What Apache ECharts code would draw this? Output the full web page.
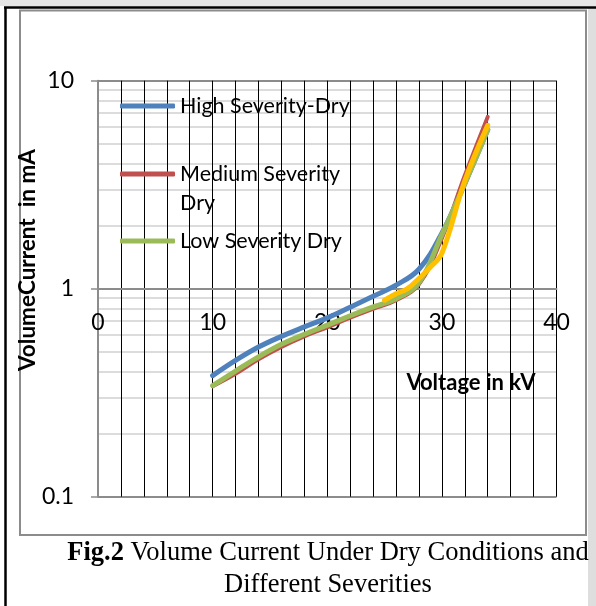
<!DOCTYPE html>
<html style="height: 100%">
<head>
<meta charset="utf-8">
<script src="https://cdn.jsdelivr.net/npm/echarts@6/dist/echarts.min.js"></script>
</head>
<body style="height: 100%; margin: 0; background: #fff">
<div id="container" style="width: 596px; height: 606px"></div>
<script type="text/javascript">

// voltage (kV) and volume current (mA)
var voltage = [10, 12, 14, 16, 18, 20, 22, 24, 26, 28, 30, 32, 34];
var highDry = [0.382, 0.452, 0.524, 0.59, 0.655, 0.724, 0.815, 0.92, 1.04, 1.24, 1.85, 3.2, 5.8];
var mediumDry = [0.34, 0.39, 0.458, 0.525, 0.59, 0.652, 0.725, 0.80, 0.88, 1.05, 1.75, 3.5, 6.7];
var lowDry = [0.342, 0.402, 0.47, 0.54, 0.604, 0.668, 0.741, 0.817, 0.895, 1.07, 1.82, 3.2, 5.8];
// unlabelled fourth curve
var extraVoltage = [25, 26, 27, 28, 29, 30, 32, 34];
var extraDry = [0.88, 0.945, 1.0, 1.12, 1.27, 1.48, 3.3, 6.1];

var seriesNames = ['High Severity-Dry', 'Medium Severity Dry', 'Low Severity Dry', 'Series 4'];
var colors = ['#4F81BD', '#C0504D', '#9BBB59', '#FFC000'];
var xTicks = [0, 10, 20, 30, 40];
var minorLevels = [0.2, 0.3, 0.4, 0.5, 0.6, 0.7, 0.8, 0.9, 2, 3, 4, 5, 6, 7, 8, 9];

function pairs(xs, ys) {
  return xs.map(function (x, i) { return [x, ys[i]]; });
}

var dom = document.getElementById('container');
var myChart = echarts.init(dom, null, {renderer: 'canvas'});

var legendCommon = {
  left: 120,
  orient: 'vertical',
  padding: 0,
  icon: 'roundRect',
  itemWidth: 55,
  itemHeight: 5,
  selectedMode: false,
  textStyle: {fontFamily: 'Lato', fontSize: 21.5, color: '#000', lineHeight: 29}
};

function line(name, data, color, width) {
  return {
    name: name,
    type: 'line',
    data: data,
    smooth: 0.4,
    symbol: 'none',
    color: color,
    lineStyle: {color: color, width: width, cap: 'round', join: 'round'},
    animation: false
  };
}

var option = {
  backgroundColor: '#fff',
  animation: false,
  grid: {left: 98, top: 80.7, right: 39.5, bottom: 109.3},
  legend: [
    Object.assign({}, legendCommon, {data: [seriesNames[0]], top: 91.5}),
    Object.assign({}, legendCommon, {
      data: [seriesNames[1]], top: 130.5,
      // empty first line so that the first text line sits level with the line icon
      formatter: function () { return '\nMedium Severity\nDry'; }
    }),
    Object.assign({}, legendCommon, {data: [seriesNames[2]], top: 226.5})
  ],
  xAxis: {
    type: 'value',
    min: xTicks[0],
    max: xTicks[xTicks.length - 1],
    interval: 10,
    offset: -207.7,
    axisLine: {show: true, onZero: false, lineStyle: {color: '#8c8c8c', width: 2}},
    axisTick: {show: false},
    axisLabel: {fontFamily: 'Lato', fontSize: 23, color: '#000', margin: 22},
    splitLine: {show: true, lineStyle: {color: '#000', width: 1}},
    minorTick: {show: false, splitNumber: 5},
    minorSplitLine: {show: true, lineStyle: {color: '#000', width: 1}}
  },
  yAxis: {
    type: 'log',
    logBase: 10,
    min: 0.1,
    max: 10,
    axisLine: {show: true, lineStyle: {color: '#8c8c8c', width: 2}},
    axisTick: {show: true, length: 7, lineStyle: {color: '#8c8c8c', width: 1.5}},
    axisLabel: {
      fontFamily: 'Lato', fontSize: 23, color: '#000', margin: 24,
      formatter: function (v) { return String(Math.round(v * 1000) / 1000); }
    },
    splitLine: {show: true, lineStyle: {color: '#8c8c8c', width: 2}}
  },
  series: [
    {
      name: 'grid',
      type: 'line',
      data: [],
      z: -1,
      clip: false,
      silent: true,
      animation: false,
      markLine: {
        z: -1,
        silent: true,
        animation: false,
        symbol: ['none', 'none'],
        label: {show: false},
        data: minorLevels.map(function (v) {
          return [{coord: [0, v], lineStyle: {color: '#d0d0d0', width: 1.5, type: 'solid'}}, {coord: [40, v]}];
        }).concat(minorLevels.map(function (v) {
          return [{coord: [-0.6, v], lineStyle: {color: '#8c8c8c', width: 1.5, type: 'solid'}}, {coord: [0, v]}];
        }))
      }
    },
    line(seriesNames[0], pairs(voltage, highDry), colors[0], 5),
    line(seriesNames[1], pairs(voltage, mediumDry), colors[1], 4),
    line(seriesNames[2], pairs(voltage, lowDry), colors[2], 5),
    line(seriesNames[3], pairs(extraVoltage, extraDry), colors[3], 5)
  ],
  graphic: [
    {type: 'rect', shape: {x: 0, y: 0, width: 596, height: 6}, style: {fill: '#e6e6e6'}, z: -10},
    {type: 'rect', shape: {x: 588, y: 8, width: 8, height: 598}, style: {fill: '#dedede'}, z: -10},
    {type: 'line', shape: {x1: 4, y1: 7.5, x2: 596, y2: 7.5}, style: {stroke: '#000', lineWidth: 2.5}},
    {type: 'line', shape: {x1: 5.5, y1: 7, x2: 5.5, y2: 606}, style: {stroke: '#000', lineWidth: 2.5}},
    {type: 'rect', shape: {x: 20, y: 10.5, width: 566, height: 524.5}, style: {fill: 'none', stroke: '#8c8c8c', lineWidth: 2}},
    {
      type: 'text', x: 28, y: 260, rotation: Math.PI / 2,
      style: {text: 'VolumeCurrent  in mA', font: 'bold 22.5px Lato', fill: '#000', align: 'center', verticalAlign: 'middle'}
    },
    {
      type: 'text', x: 471, y: 383,
      style: {text: 'Voltage in kV', font: 'bold 22px Lato', fill: '#000', align: 'center', verticalAlign: 'middle'}
    },
    {
      type: 'text', x: 328, y: 553,
      style: {
        text: '{b|Fig.2} Volume Current Under Dry Conditions and',
        font: '26.5px "Liberation Serif"', fill: '#000', align: 'center', verticalAlign: 'middle',
        rich: {b: {fontWeight: 'bold', fontFamily: 'Liberation Serif', fontSize: 26.5}}
      }
    },
    {
      type: 'text', x: 328, y: 585,
      style: {text: 'Different Severities', font: '26.5px "Liberation Serif"', fill: '#000', align: 'center', verticalAlign: 'middle'}
    }
  ]
};

myChart.setOption(option);

</script>
</body>
</html>
